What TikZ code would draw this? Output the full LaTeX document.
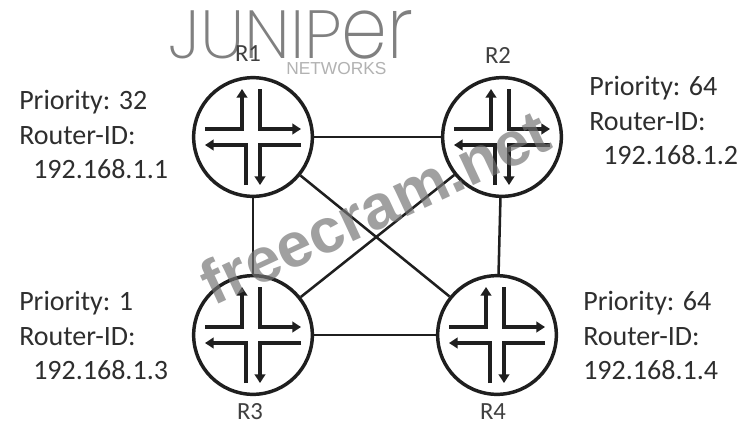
\documentclass[tikz,border=0pt]{standalone}
\usepackage{fontspec}
\setmainfont{Carlito}
\newfontfamily\logofont{Poppins ExtraLight}
\newfontfamily\markfont{Liberation Sans}
\usetikzlibrary{arrows.meta}
\definecolor{ink}{gray}{0.12}
\tikzset{
  x=0.75pt,y=-0.75pt,
  router/.style={circle,draw=ink,line width=2.6pt,minimum size=89pt,inner sep=0pt,fill=white},
  wire/.style={draw=ink,line width=1.9pt},
  flow/.style={draw=ink,line width=2.8pt,-{Triangle[length=6.5pt,width=8pt]}},
  info/.style={align=left,anchor=north west,inner sep=0pt,text=black!82,font=\fontsize{21}{26}\selectfont},
  tag/.style={text=black!75,inner sep=0pt,font=\fontsize{18.5}{20}\selectfont},
  logotext/.style={inner sep=0pt,text=black!50},
  routericon/.pic={
    \draw[flow] (-48,-8) -- (-11,-8) -- (-11,-48);
    \draw[flow] (7,-48) -- (7,-8) -- (48,-8);
    \draw[flow] (48,8) -- (7,8) -- (7,48);
    \draw[flow] (-7,48) -- (-7,8) -- (-48,8);
  }
}
\begin{document}
\begin{tikzpicture}
\useasboundingbox (0,0) rectangle (742,425);
\fill[white] (0,0) rectangle (742,425);

% Juniper logo
\node[logotext,anchor=west,xscale=0.89,yscale=0.88] (logo) at (168,35)
  {\logofont\fontsize{58}{58}\selectfont JUNIP};
\node[logotext,anchor=west,xscale=0.95,yscale=1.12] (logoer) at (341,35)
  {\logofont\fontsize{58}{58}\selectfont er};
\node[anchor=west,inner sep=0pt,text=black!30] (logosub) at (286,69)
  {\markfont\fontsize{13}{13}\selectfont NETWORKS};

% routers
\node[router] (R1) at (253,137) {};
\node[router] (R2) at (502,137) {};
\node[router] (R3) at (253,335) {};
\node[router] (R4) at (497,335) {};

% links
\draw[wire] (R1) -- (R2);
\draw[wire] (R3) -- (R4);
\draw[wire] (R1) -- (R3);
\draw[wire] (R2) -- (R4);
\draw[wire] (R1) -- (R4);
\draw[wire] (R2) -- (R3);

% icons
\pic at (R1) {routericon};
\pic at (R2) {routericon};
\pic at (R3) {routericon};
\pic at (R4) {routericon};

% router names
\node[tag] (nR1) at (248,54) {R1};
\node[tag] (nR2) at (498,55) {R2};
\node[tag] (nR3) at (250,412) {R3};
\node[tag] (nR4) at (493,412) {R4};

% info
\node[info] (i1) at (19,90) {Priority: 32\\Router-ID:\\\hspace*{10.5pt}192.168.1.1};
\node[info] (i2) at (589,76) {Priority: 64\\Router-ID:\\\hspace*{10.5pt}192.168.1.2};
\node[info] (i3) at (19,291) {Priority: 1\\Router-ID:\\\hspace*{10.5pt}192.168.1.3};
\node[info] (i4) at (583,291) {Priority: 64\\Router-ID:\\192.168.1.4};

% watermark
\node[rotate=25,inner sep=0pt,text=black!55,opacity=0.68] (mark) at (375,207)
  {\markfont\bfseries\fontsize{47}{47}\selectfont freecram.net};
\end{tikzpicture}
\end{document}
